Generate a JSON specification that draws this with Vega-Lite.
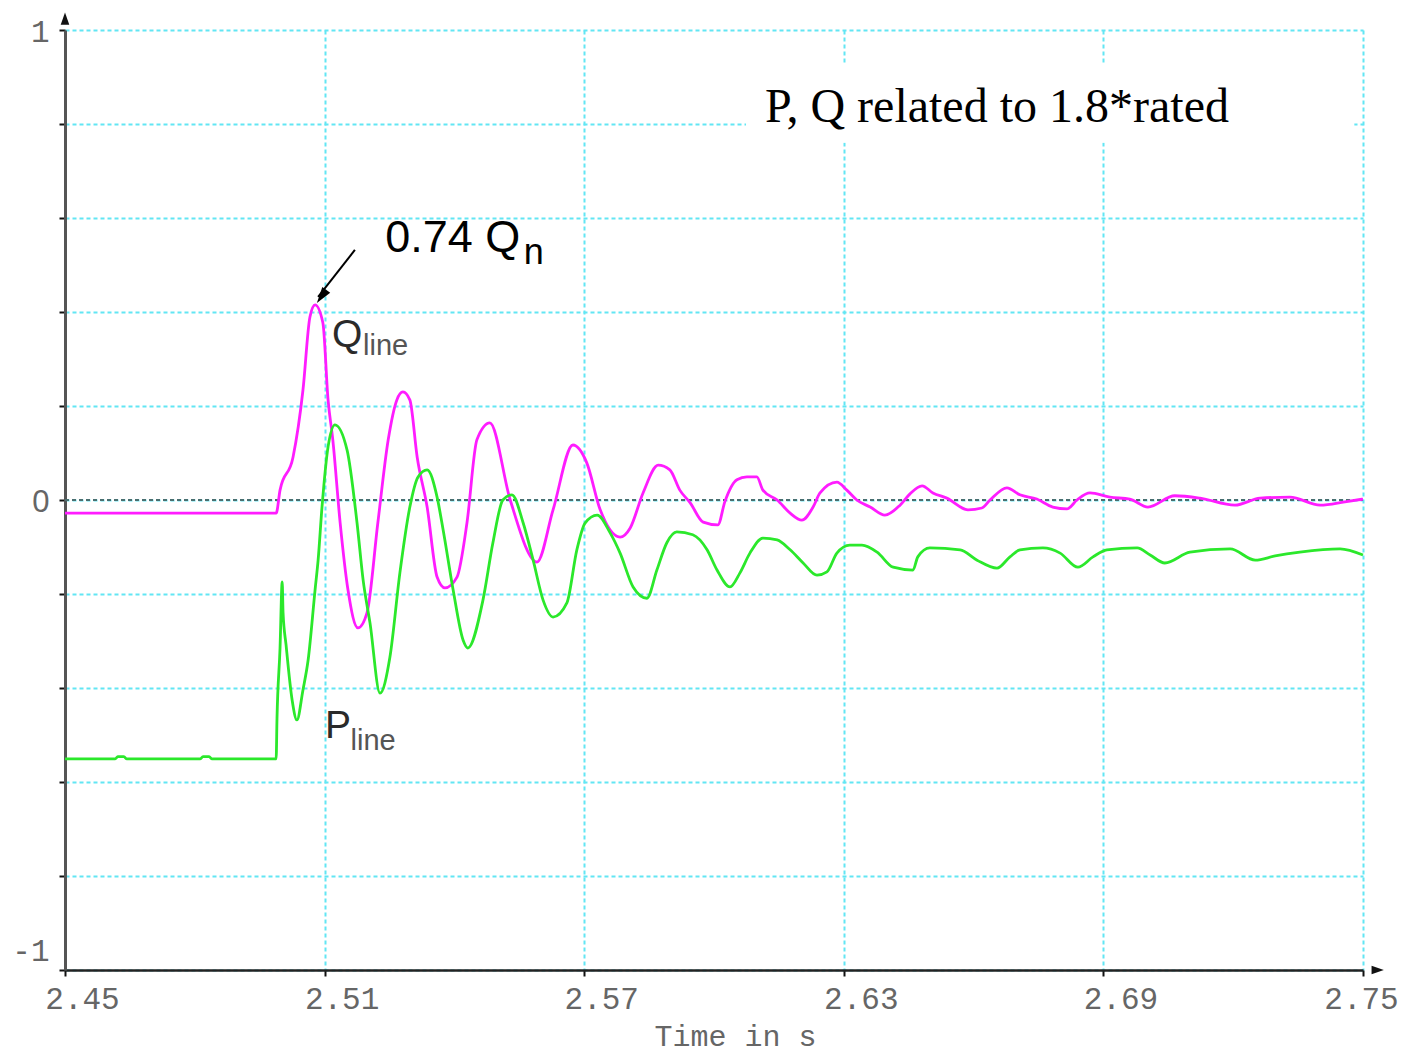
{
  "$schema": "https://vega.github.io/schema/vega-lite/v6.json",
  "width": 1298,
  "height": 940,
  "autosize": "none",
  "padding": {"left": 65, "top": 30, "right": 43, "bottom": 86},
  "background": "white",
  "config": {"view": {"stroke": null}},
  "datasets": {
    "lines": [
      {"s":"Q","t":2.45,"v":-0.028},{"s":"Q","t":2.4988,"v":-0.028},{"s":"Q","t":2.4997,"v":0.021},{"s":"Q","t":2.5027,"v":0.091},
      {"s":"Q","t":2.5050,"v":0.234},{"s":"Q","t":2.5066,"v":0.389},{"s":"Q","t":2.5078,"v":0.415},{"s":"Q","t":2.5096,"v":0.377},
      {"s":"Q","t":2.5108,"v":0.213},{"s":"Q","t":2.5119,"v":0.128},{"s":"Q","t":2.5136,"v":-0.049},{"s":"Q","t":2.5154,"v":-0.191},
      {"s":"Q","t":2.5177,"v":-0.272},{"s":"Q","t":2.5198,"v":-0.240},{"s":"Q","t":2.5223,"v":-0.049},{"s":"Q","t":2.5247,"v":0.128},
      {"s":"Q","t":2.5267,"v":0.213},{"s":"Q","t":2.5281,"v":0.230},{"s":"Q","t":2.5297,"v":0.213},{"s":"Q","t":2.5314,"v":0.091},
      {"s":"Q","t":2.5337,"v":-0.015},{"s":"Q","t":2.5360,"v":-0.164},{"s":"Q","t":2.5378,"v":-0.187},{"s":"Q","t":2.5406,"v":-0.164},
      {"s":"Q","t":2.5429,"v":-0.049},{"s":"Q","t":2.5452,"v":0.128},{"s":"Q","t":2.5482,"v":0.164},{"s":"Q","t":2.5529,"v":0.000},
      {"s":"Q","t":2.5591,"v":-0.132},{"s":"Q","t":2.5628,"v":-0.021},{"s":"Q","t":2.5674,"v":0.117},{"s":"Q","t":2.5706,"v":0.079},
      {"s":"Q","t":2.5737,"v":-0.021},{"s":"Q","t":2.5783,"v":-0.079},{"s":"Q","t":2.5806,"v":-0.060},{"s":"Q","t":2.5836,"v":0.015},
      {"s":"Q","t":2.5871,"v":0.074},{"s":"Q","t":2.5898,"v":0.064},{"s":"Q","t":2.5921,"v":0.021},{"s":"Q","t":2.5945,"v":-0.006},
      {"s":"Q","t":2.5975,"v":-0.047},{"s":"Q","t":2.6009,"v":-0.053},{"s":"Q","t":2.6025,"v":-0.004},{"s":"Q","t":2.6053,"v":0.043},
      {"s":"Q","t":2.6076,"v":0.049},{"s":"Q","t":2.6099,"v":0.049},{"s":"Q","t":2.6113,"v":0.021},{"s":"Q","t":2.6146,"v":0.000},
      {"s":"Q","t":2.6176,"v":-0.028},{"s":"Q","t":2.6203,"v":-0.043},{"s":"Q","t":2.6229,"v":-0.015},{"s":"Q","t":2.6245,"v":0.015},
      {"s":"Q","t":2.6284,"v":0.038},{"s":"Q","t":2.6307,"v":0.021},{"s":"Q","t":2.6330,"v":0.000},{"s":"Q","t":2.6361,"v":-0.015},
      {"s":"Q","t":2.6395,"v":-0.032},{"s":"Q","t":2.6430,"v":-0.011},{"s":"Q","t":2.6453,"v":0.013},{"s":"Q","t":2.6481,"v":0.030},
      {"s":"Q","t":2.6506,"v":0.015},{"s":"Q","t":2.6538,"v":0.004},{"s":"Q","t":2.6587,"v":-0.021},{"s":"Q","t":2.6619,"v":-0.017},
      {"s":"Q","t":2.6638,"v":0.000},{"s":"Q","t":2.6677,"v":0.026},{"s":"Q","t":2.6707,"v":0.011},{"s":"Q","t":2.6746,"v":0.002},
      {"s":"Q","t":2.6783,"v":-0.015},{"s":"Q","t":2.6816,"v":-0.019},{"s":"Q","t":2.6839,"v":0.000},{"s":"Q","t":2.6869,"v":0.015},
      {"s":"Q","t":2.6915,"v":0.006},{"s":"Q","t":2.6961,"v":0.002},{"s":"Q","t":2.7003,"v":-0.015},{"s":"Q","t":2.7065,"v":0.009},
      {"s":"Q","t":2.7123,"v":0.004},{"s":"Q","t":2.7204,"v":-0.011},{"s":"Q","t":2.7262,"v":0.004},{"s":"Q","t":2.7331,"v":0.006},
      {"s":"Q","t":2.7401,"v":-0.011},{"s":"Q","t":2.7458,"v":-0.004},{"s":"Q","t":2.75,"v":0.002},

      {"s":"P","t":2.45,"v":-0.551},{"s":"P","t":2.4616,"v":-0.551},{"s":"P","t":2.4622,"v":-0.546},{"s":"P","t":2.4636,"v":-0.546},
      {"s":"P","t":2.4643,"v":-0.551},{"s":"P","t":2.4812,"v":-0.551},{"s":"P","t":2.4819,"v":-0.546},{"s":"P","t":2.4833,"v":-0.546},
      {"s":"P","t":2.4840,"v":-0.551},{"s":"P","t":2.4988,"v":-0.551},{"s":"P","t":2.4990,"v":-0.464},{"s":"P","t":2.4997,"v":-0.315},
      {"s":"P","t":2.5002,"v":-0.174},{"s":"P","t":2.5004,"v":-0.240},{"s":"P","t":2.5011,"v":-0.309},{"s":"P","t":2.5025,"v":-0.426},
      {"s":"P","t":2.5036,"v":-0.468},{"s":"P","t":2.5050,"v":-0.404},{"s":"P","t":2.5062,"v":-0.340},{"s":"P","t":2.5078,"v":-0.191},
      {"s":"P","t":2.5085,"v":-0.128},{"s":"P","t":2.5094,"v":-0.015},{"s":"P","t":2.5108,"v":0.113},{"s":"P","t":2.5124,"v":0.160},
      {"s":"P","t":2.5152,"v":0.106},{"s":"P","t":2.5175,"v":-0.049},{"s":"P","t":2.5189,"v":-0.170},{"s":"P","t":2.5205,"v":-0.262},
      {"s":"P","t":2.5228,"v":-0.411},{"s":"P","t":2.5251,"v":-0.334},{"s":"P","t":2.5274,"v":-0.155},{"s":"P","t":2.5297,"v":-0.015},
      {"s":"P","t":2.5316,"v":0.049},{"s":"P","t":2.5337,"v":0.064},{"s":"P","t":2.5360,"v":0.006},{"s":"P","t":2.5374,"v":-0.064},
      {"s":"P","t":2.5397,"v":-0.191},{"s":"P","t":2.5420,"v":-0.298},{"s":"P","t":2.5431,"v":-0.315},{"s":"P","t":2.5466,"v":-0.213},
      {"s":"P","t":2.5489,"v":-0.091},{"s":"P","t":2.5512,"v":0.000},{"s":"P","t":2.5533,"v":0.011},{"s":"P","t":2.5559,"v":-0.049},
      {"s":"P","t":2.5582,"v":-0.128},{"s":"P","t":2.5605,"v":-0.213},{"s":"P","t":2.5628,"v":-0.249},{"s":"P","t":2.5660,"v":-0.219},
      {"s":"P","t":2.5683,"v":-0.106},{"s":"P","t":2.5702,"v":-0.049},{"s":"P","t":2.5730,"v":-0.032},{"s":"P","t":2.5760,"v":-0.070},
      {"s":"P","t":2.5783,"v":-0.113},{"s":"P","t":2.5813,"v":-0.185},{"s":"P","t":2.5845,"v":-0.209},{"s":"P","t":2.5868,"v":-0.149},
      {"s":"P","t":2.5891,"v":-0.091},{"s":"P","t":2.5914,"v":-0.068},{"s":"P","t":2.5951,"v":-0.074},{"s":"P","t":2.5984,"v":-0.106},
      {"s":"P","t":2.6007,"v":-0.149},{"s":"P","t":2.6037,"v":-0.185},{"s":"P","t":2.6060,"v":-0.155},{"s":"P","t":2.6083,"v":-0.113},
      {"s":"P","t":2.6113,"v":-0.081},{"s":"P","t":2.6146,"v":-0.085},{"s":"P","t":2.6176,"v":-0.106},{"s":"P","t":2.6206,"v":-0.134},
      {"s":"P","t":2.6238,"v":-0.160},{"s":"P","t":2.6261,"v":-0.153},{"s":"P","t":2.6284,"v":-0.113},{"s":"P","t":2.6314,"v":-0.096},
      {"s":"P","t":2.6342,"v":-0.096},{"s":"P","t":2.6377,"v":-0.111},{"s":"P","t":2.6414,"v":-0.143},{"s":"P","t":2.6460,"v":-0.149},
      {"s":"P","t":2.6471,"v":-0.121},{"s":"P","t":2.6499,"v":-0.102},{"s":"P","t":2.6569,"v":-0.106},{"s":"P","t":2.6608,"v":-0.128},
      {"s":"P","t":2.6654,"v":-0.145},{"s":"P","t":2.6684,"v":-0.121},{"s":"P","t":2.6707,"v":-0.106},{"s":"P","t":2.6760,"v":-0.102},
      {"s":"P","t":2.6800,"v":-0.113},{"s":"P","t":2.6841,"v":-0.143},{"s":"P","t":2.6876,"v":-0.121},{"s":"P","t":2.6908,"v":-0.106},
      {"s":"P","t":2.6978,"v":-0.102},{"s":"P","t":2.7008,"v":-0.117},{"s":"P","t":2.7042,"v":-0.134},{"s":"P","t":2.7100,"v":-0.111},
      {"s":"P","t":2.7193,"v":-0.104},{"s":"P","t":2.7251,"v":-0.128},{"s":"P","t":2.7297,"v":-0.119},{"s":"P","t":2.7354,"v":-0.111},
      {"s":"P","t":2.7447,"v":-0.104},{"s":"P","t":2.75,"v":-0.117}
    ]
  },
  "encoding": {
    "x": {
      "field": "t", "type": "quantitative",
      "scale": {"domain": [2.45, 2.75], "nice": false, "zero": false},
      "axis": {
        "values": [2.45, 2.51, 2.57, 2.63, 2.69, 2.75],
        "format": ".2f",
        "grid": true, "gridColor": "#62e6f4", "gridDash": [4, 3], "gridWidth": 2,
        "domainColor": "#222222", "domainWidth": 2.5,
        "tickColor": "#111111", "tickSize": 6, "tickWidth": 2,
        "labelFont": "Liberation Mono", "labelFontSize": 31, "labelColor": "#666666",
        "labelAlign": "center", "labelPadding": 8, "labelOverlap": false, "labelFlush": false,
        "labelOffset": {"condition": {"test": "datum.value > 2.74", "value": -2}, "value": 17},
        "title": "Time in s",
        "titleFont": "Liberation Mono", "titleFontSize": 30, "titleColor": "#666666", "titleFontWeight": "normal",
        "titleX": 670, "titleY": 66, "titleBaseline": "middle", "titleAlign": "center"
      }
    },
    "y": {
      "field": "v", "type": "quantitative",
      "scale": {"domain": [-1, 1], "nice": false, "zero": false},
      "axis": {
        "values": [-1, -0.8, -0.6, -0.4, -0.2, 0, 0.2, 0.4, 0.6, 0.8, 1],
        "labelExpr": "datum.value == 0 ? '0' : datum.value == 1 ? '1' : datum.value == -1 ? '-1' : ''",
        "grid": true, "gridColor": "#62e6f4", "gridDash": [4, 3], "gridWidth": 2,
        "domainColor": "#555555", "domainWidth": 3,
        "tickColor": "#111111", "tickSize": 6, "tickWidth": 2,
        "labelFont": {"condition": {"test": "datum.value == 0", "value": "Liberation Sans"}, "value": "Liberation Mono"},
        "labelFontSize": 31, "labelColor": "#666666",
        "labelPadding": 10, "labelOverlap": false, "labelFlush": false, "labelBaseline": "middle",
        "labelOffset": {"condition": {"test": "datum.value == -1", "value": -19}, "value": 2},
        "title": null
      }
    }
  },
  "layer": [
    {
      "data": {"values": [{"t": 2.6074, "t2": 2.748, "v": 0.930, "v2": 0.760}]},
      "mark": {"type": "rect", "fill": "white", "stroke": null},
      "encoding": {"x2": {"field": "t2"}, "y2": {"field": "v2"}}
    },
    {
      "data": {"values": [{"t": 2.45, "t2": 2.75, "v": 0}]},
      "mark": {"type": "rule", "stroke": "#4a6f70", "strokeDash": [4, 3], "strokeWidth": 2},
      "encoding": {"x2": {"field": "t2"}}
    },
    {
      "data": {"name": "lines"},
      "mark": {"type": "line", "strokeWidth": 2.8, "interpolate": "monotone"},
      "encoding": {
        "color": {"field": "s", "type": "nominal", "scale": {"domain": ["Q", "P"], "range": ["#ff1cff", "#2be82b"]}, "legend": null},
        "order": {"field": "t", "type": "quantitative"}
      }
    },
    {
      "data": {"values": [{"t": 2.5170, "v": 0.532, "t2": 2.5085, "v2": 0.432}]},
      "mark": {"type": "rule", "stroke": "black", "strokeWidth": 2},
      "encoding": {"x2": {"field": "t2"}, "y2": {"field": "v2"}}
    },
    {
      "data": {"values": [{"t": 2.5093, "v": 0.433}]},
      "mark": {"type": "point", "shape": "M0,-1L0.6,1L-0.6,1Z", "filled": true, "color": "black", "size": 260, "angle": 215.6, "opacity": 1}
    },
    {
      "data": {"values": [{"t": 2.45, "v": 1.024}]},
      "mark": {"type": "point", "shape": "M0,-1L0.7,1L-0.7,1Z", "filled": true, "color": "#111111", "size": 150, "opacity": 1, "clip": false}
    },
    {
      "data": {"values": [{"t": 2.7534, "v": -1}]},
      "mark": {"type": "point", "shape": "M0,-1L0.7,1L-0.7,1Z", "angle": 90, "filled": true, "color": "#111111", "size": 150, "opacity": 1, "clip": false}
    },
    {
      "data": {"values": [{"label": "0.74 Q", "t": 2.5240, "v": 0.528}]},
      "mark": {"type": "text", "font": "Liberation Sans", "fontSize": 45, "align": "left", "baseline": "alphabetic", "color": "black"},
      "encoding": {"text": {"field": "label"}}
    },
    {
      "data": {"values": [{"label": "n", "t": 2.5560, "v": 0.502}]},
      "mark": {"type": "text", "font": "Liberation Sans", "fontSize": 36, "align": "left", "baseline": "alphabetic", "color": "black"},
      "encoding": {"text": {"field": "label"}}
    },
    {
      "data": {"values": [{"label": "Q", "t": 2.5117, "v": 0.3255}, {"label": "P", "t": 2.5101, "v": -0.506}]},
      "mark": {"type": "text", "font": "Liberation Sans", "fontSize": 39, "align": "left", "baseline": "alphabetic", "color": "#2a2a2a"},
      "encoding": {"text": {"field": "label"}}
    },
    {
      "data": {"values": [{"label": "line", "t": 2.5189, "v": 0.3085}, {"label": "line", "t": 2.5160, "v": -0.532}]},
      "mark": {"type": "text", "font": "Liberation Sans", "fontSize": 29, "align": "left", "baseline": "alphabetic", "color": "#555555"},
      "encoding": {"text": {"field": "label"}}
    },
    {
      "data": {"values": [{"label": "P, Q related to 1.8*rated", "t": 2.6118, "v": 0.804}]},
      "mark": {"type": "text", "font": "Liberation Serif", "fontSize": 48, "align": "left", "baseline": "alphabetic", "color": "black"},
      "encoding": {"text": {"field": "label"}}
    }
  ]
}
